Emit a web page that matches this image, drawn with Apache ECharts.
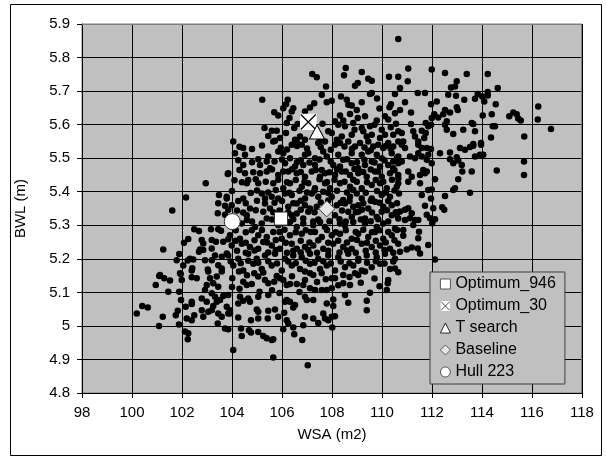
<!DOCTYPE html>
<html>
<head>
  <meta charset="utf-8">
  <title>WSA vs BWL</title>
  <script src="https://cdn.jsdelivr.net/npm/echarts@6/dist/echarts.min.js"></script>
  <style>
    html, body { margin: 0; padding: 0; background: #fff; }
    #chart { width: 606px; height: 461px; }
  </style>
</head>
<body>
  <div id="chart"></div>
  <script>
  // design cloud [WSA, BWL]
  var designs = [
    // upper band
    [110.65,5.855],
    [107.21,5.751],[107.39,5.741],[108.55,5.769],[108.48,5.747],[109.19,5.757],[109.45,5.737],[109.59,5.731],[110.28,5.743],[110.65,5.743],
    [107.76,5.714],[108.92,5.716],[109.03,5.724],[105.21,5.674],[106.16,5.661],[106.23,5.674],[107.59,5.689],[107.29,5.664],[107.12,5.651],
    [107.79,5.667],[107.99,5.671],[108.36,5.684],[108.59,5.674],[108.65,5.659],[108.79,5.657],[109.19,5.667],[109.52,5.691],[109.59,5.694],
    [110.52,5.691],[110.36,5.661],[106.05,5.649],[106.45,5.649],[106.39,5.639],[105.69,5.637],[105.85,5.627],[106.92,5.639],[108.32,5.627],
    [108.72,5.632],[108.99,5.644],[109.03,5.62],[109.32,5.625],[109.79,5.612],[110.12,5.625],[110.25,5.615],[110.52,5.634],
    [106.19,5.605],[106.49,5.59],[105.59,5.582],[105.79,5.582],[106.16,5.575],[108.12,5.61],[108.25,5.6],[108.52,5.595],[108.85,5.605],
    [109.19,5.59],[109.25,5.58],[109.52,5.595],[109.59,5.57],[109.99,5.585],[110.12,5.57],[107.85,5.58],[107.99,5.575],[108.39,5.565],
    [105.72,5.552],[106.52,5.555],[106.92,5.555],[105.92,5.56],[106.72,5.565],[107.52,5.552],[108.19,5.555],[108.79,5.57],[109.39,5.565],
    [109.92,5.56],[110.45,5.57],
    [105.3,5.59],[105.45,5.566],[106.3,5.62],[106.62,5.602],[107.62,5.603],[108.45,5.612],[108.9,5.585],[109.7,5.6],[110.35,5.592],
    [110.56,5.603],[110.3,5.652],[109.9,5.648],[109.8,5.678],
    // upper right
    [111.05,5.767],[111.99,5.764],[112.52,5.754],[113.39,5.751],[114.23,5.751],[111.03,5.729],[112.99,5.729],[112.92,5.714],[112.76,5.711],
    [110.72,5.709],[114.63,5.709],[111.43,5.694],[111.72,5.694],[112.65,5.689],[112.96,5.686],[113.29,5.674],[113.72,5.677],[113.83,5.691],
    [114.01,5.684],[114.23,5.697],[114.23,5.687],[114.09,5.669],[114.55,5.661],[110.92,5.667],[111.96,5.661],[112.19,5.669],[110.72,5.644],
    [111.16,5.636],[112.52,5.644],[112.72,5.636],[113.03,5.644],[112.99,5.652],[112.09,5.631],[111.99,5.62],[112.25,5.621],[112.45,5.631],
    [114.03,5.627],[114.39,5.631],[115.09,5.625],[115.25,5.636],[115.39,5.631],[115.45,5.618],[115.55,5.612],[116.25,5.654],[116.23,5.615],
    [116.76,5.587],[111.16,5.602],[111.75,5.605],[111.85,5.595],[111.96,5.6],[112.59,5.61],[112.52,5.6],[113.59,5.605],[113.65,5.602],
    [114.43,5.595],[114.52,5.595],[113.25,5.585],[112.59,5.585],[113.72,5.58],[112.85,5.572],[114.36,5.562],[115.69,5.565],[110.65,5.58],
    [110.79,5.575],[111.25,5.58],[111.32,5.565],[111.59,5.582],[111.75,5.575],[111.69,5.56],[110.85,5.55],[111.45,5.55],[113.65,5.542],
    [113.96,5.545],
    // right middle
    [110.79,5.54],[110.92,5.53],[111.45,5.54],[111.59,5.53],[111.45,5.515],[111.79,5.53],[111.96,5.527],[112.32,5.515],[112.72,5.517],
    [113.12,5.53],[113.32,5.525],[113.52,5.533],[113.65,5.537],[113.96,5.54],[113.92,5.51],[113.72,5.505],[114.05,5.51],[112.72,5.497],
    [112.99,5.503],[113.05,5.493],[112.85,5.485],[113.19,5.48],[111.12,5.505],[111.32,5.5],[111.59,5.505],[111.85,5.51],[111.99,5.485],
    [111.79,5.495],[110.65,5.505],[110.65,5.485],[110.79,5.49],[114.59,5.463],[115.68,5.49],[115.68,5.45],[113.59,5.46],[113.21,5.46],
    [113.05,5.437],[112.12,5.437],[111.05,5.46],[111.19,5.445],[111.52,5.45],[111.65,5.465],[111.72,5.455],[111.79,5.46],[111.05,5.43],
    [111.52,5.425],[110.65,5.45],[110.65,5.425],[112.92,5.41],[112.85,5.405],[111.85,5.405],[111.99,5.407],[113.52,5.397],[112.52,5.387],
    [111.59,5.39],[110.68,5.395],[111.96,5.38],[111.72,5.358],[112.05,5.351],[112.41,5.354],[112.49,5.346],[111.05,5.351],[110.92,5.346],
    [110.72,5.341],[110.59,5.331],[111.19,5.336],[111.12,5.321],[111.32,5.316],[111.45,5.316],[111.25,5.301],[110.92,5.316],[111.79,5.331],
    [111.92,5.321],[112.12,5.318],[112.01,5.306],[110.85,5.286],[110.85,5.269],[111.48,5.281],[111.45,5.261],[111.85,5.241],[110.72,5.221],
    [110.99,5.228],[111.19,5.234],[111.43,5.231],[111.52,5.216],[112.12,5.198],[110.52,5.171],
    // left middle
    [103.83,5.453],[102.95,5.425],[103.48,5.39],[103.79,5.38],[103.45,5.366],[103.72,5.358],[103.85,5.346],[102.16,5.383],[101.61,5.344],
    [103.43,5.336],[103.72,5.331],[102.49,5.288],[102.68,5.283],[103.16,5.288],[103.45,5.288],[103.56,5.284],[102.25,5.259],[102.08,5.248],
    [102.79,5.256],[102.85,5.246],[103.19,5.256],[103.36,5.251],[103.65,5.251],[103.85,5.258],[101.25,5.228],[101.89,5.214],[101.79,5.196],
    [102.72,5.228],[102.68,5.221],[102.85,5.226],[103.19,5.231],[103.32,5.21],[103.59,5.206],[103.79,5.216],[102.32,5.2],[102.45,5.198],
    [102.23,5.195],[102.92,5.196],[103.19,5.196],[103.45,5.181],[103.59,5.171],[102.05,5.18],[102.41,5.172],[101.92,5.157],[103.03,5.168],
    [101.12,5.152],
    // lower left
    [101.09,5.149],[101.29,5.142],[101.52,5.135],[100.95,5.122],[101.95,5.155],[101.99,5.137],[102.39,5.165],[102.39,5.145],[102.59,5.142],
    [103.05,5.162],[103.12,5.142],[103.39,5.147],[103.59,5.162],[102.99,5.122],[103.25,5.127],[103.45,5.117],[101.45,5.102],[101.89,5.102],
    [101.96,5.077],[102.15,5.057],[102.39,5.072],[102.39,5.065],[102.79,5.082],[102.99,5.072],[103.19,5.097],[103.32,5.087],[103.52,5.077],
    [103.65,5.089],[103.85,5.092],[102.92,5.107],[103.39,5.072],[100.19,5.037],[100.41,5.059],[100.63,5.055],[101.23,5.027],[101.08,5.0],
    [101.75,5.032],[101.83,5.045],[101.88,5.004],[102.19,5.022],[102.39,5.017],[102.49,5.032],[102.79,5.047],[102.85,5.027],[103.05,5.042],
    [103.19,5.047],[103.25,5.059],[103.45,5.037],[103.59,5.027],[102.12,4.983],[102.25,4.978],[102.23,4.96],[103.43,5.007],[103.72,4.992],
    [103.85,4.99],[103.85,5.037],
    // lower middle
    [104.28,5.162],[104.01,5.142],[104.45,5.132],[104.59,5.122],[104.79,5.125],[104.89,5.157],[105.05,5.147],[105.25,5.159],[105.32,5.137],
    [105.45,5.127],[105.69,5.132],[105.79,5.149],[105.92,5.142],[106.05,5.137],[106.19,5.122],[106.32,5.125],[106.59,5.125],
    [106.92,5.162],[107.12,5.157],[107.25,5.152],[107.59,5.157],[106.92,5.137],[106.85,5.122],[107.12,5.112],[107.32,5.107],[107.59,5.107],
    [107.79,5.107],[107.99,5.112],[107.99,5.142],[108.12,5.142],[108.45,5.152],[108.45,5.127],[108.72,5.122],[108.92,5.157],[109.05,5.152],
    [109.32,5.162],[110.25,5.137],[110.23,5.127],[110.19,5.107],[109.52,5.099],[109.39,5.075],[109.39,5.047],[108.65,5.069],[108.52,5.092],
    [103.79,5.057],[103.92,5.047],[104.25,5.067],[104.32,5.087],[104.45,5.075],[104.65,5.082],[104.72,5.072],[105.05,5.087],[104.99,5.049],
    [105.05,5.042],[105.45,5.045],[105.72,5.049],[105.45,5.092],[106.12,5.072],[106.19,5.077],[106.32,5.072],[106.45,5.055],[106.52,5.062],
    [106.92,5.087],[106.99,5.077],[107.25,5.077],[107.79,5.067],[108.05,5.079],[108.05,5.059],
    [103.92,5.037],[104.25,5.025],[104.76,5.017],[105.05,5.022],[105.43,5.022],[105.85,5.027],[106.09,5.039],[106.05,4.99],[106.19,5.017],
    [106.25,5.007],[106.45,4.995],[106.85,5.002],[106.92,5.027],[107.25,5.022],[107.45,5.009],[107.65,5.037],[107.72,5.022],[107.85,5.017],
    [107.99,5.027],[108.12,5.029],[108.01,4.995],[104.36,4.992],[104.39,4.97],[104.68,4.987],[104.76,4.98],[105.05,4.982],[105.25,4.97],
    [105.39,4.963],[105.59,4.958],[105.65,4.96],[106.49,4.975],[106.81,4.958],[104.05,4.928],[105.65,4.906],[107.03,4.883],
    [104.6,5.151],[105.1,5.102],[105.6,5.106],[105.9,5.098],[106.4,5.148],[106.7,5.101],[107.4,5.131],[107.75,5.139],[108.25,5.121],
    [108.7,5.146],[109.15,5.129],[109.7,5.141],[109.9,5.118],[104.3,5.111],[104.0,5.116],
    // dense centre
    [104.05,5.55],[104.45,5.53],[105.65,5.55],[106.39,5.54],[106.59,5.55],[106.79,5.54],[107.45,5.545],[107.72,5.55],[108.12,5.54],
    [108.32,5.545],[108.65,5.55],[108.92,5.535],[109.12,5.545],[109.45,5.55],[109.65,5.535],[109.85,5.54],[110.05,5.53],[110.25,5.545],
    [110.45,5.535],[110.65,5.55],
    [104.3,5.534],[104.8,5.527],[105.2,5.538],[105.95,5.531],[106.2,5.526],[106.6,5.536],[107.0,5.529],[107.55,5.533],[107.95,5.525],
    [108.5,5.535],[108.8,5.528],[109.3,5.532],[109.55,5.524],[110.15,5.536],[110.35,5.528],
    [104.12,5.515],[104.52,5.51],[105.45,5.505],[105.85,5.52],[106.05,5.515],[106.32,5.5],[106.92,5.51],[107.05,5.515],[107.32,5.5],
    [107.65,5.52],[107.79,5.505],[108.25,5.51],[108.45,5.495],[108.79,5.515],[109.19,5.51],[109.45,5.52],[109.79,5.51],[109.99,5.5],
    [110.39,5.515],[110.59,5.5],
    [104.25,5.494],[104.8,5.488],[105.05,5.497],[105.7,5.49],[106.0,5.496],[106.6,5.488],[106.75,5.494],[107.1,5.487],[107.5,5.496],
    [107.95,5.49],[108.6,5.497],[109.0,5.488],[109.3,5.495],[109.7,5.487],[110.1,5.494],[110.45,5.49],
    [104.45,5.48],[105.12,5.48],[105.39,5.49],[105.52,5.47],[106.12,5.485],[106.52,5.475],[106.85,5.48],[107.32,5.48],[107.59,5.465],
    [108.05,5.48],[108.32,5.475],[108.79,5.485],[109.05,5.47],[109.32,5.48],[109.59,5.49],[109.92,5.475],[110.25,5.48],[110.45,5.47],
    [104.3,5.465],[104.85,5.458],[105.6,5.466],[106.05,5.46],[106.4,5.467],[106.75,5.459],[107.35,5.465],[107.9,5.458],[108.2,5.466],
    [108.55,5.46],[108.9,5.468],[109.25,5.459],[109.55,5.466],[109.85,5.46],[110.5,5.464],
    [103.85,5.455],[104.52,5.455],[104.65,5.435],[105.12,5.455],[105.39,5.46],[105.85,5.45],[106.25,5.46],[106.59,5.455],[106.92,5.445],
    [107.19,5.46],[107.52,5.445],[107.72,5.455],[108.12,5.45],[108.39,5.46],[108.72,5.45],[109.05,5.455],[109.39,5.445],[109.72,5.46],
    [109.99,5.445],[110.32,5.455],[110.65,5.44],
    [104.1,5.434],[104.4,5.428],[104.95,5.437],[105.35,5.43],[105.85,5.436],[106.2,5.428],[106.55,5.435],[106.9,5.43],[107.5,5.437],
    [107.8,5.429],[108.1,5.436],[108.5,5.43],[108.85,5.436],[109.4,5.428],[109.75,5.435],[110.05,5.43],[110.4,5.436],
    [104.59,5.425],[105.05,5.425],[105.65,5.425],[106.05,5.41],[106.32,5.425],[106.79,5.415],[107.05,5.425],[107.32,5.41],[107.72,5.425],
    [107.92,5.41],[108.32,5.425],[108.72,5.415],[108.99,5.43],[109.19,5.41],[109.59,5.42],[109.92,5.425],[110.19,5.41],[110.59,5.415],
    [104.0,5.402],[104.75,5.396],[105.0,5.404],[105.45,5.398],[105.75,5.405],[106.3,5.397],[106.7,5.403],[107.0,5.398],[107.3,5.404],
    [107.85,5.396],[108.2,5.403],[108.6,5.398],[108.85,5.405],[109.35,5.397],[109.8,5.402],[110.15,5.398],[110.5,5.404],
    [103.79,5.385],[104.45,5.38],[105.19,5.395],[105.32,5.38],[105.59,5.385],[105.85,5.38],[106.12,5.395],[106.39,5.39],[106.92,5.38],
    [107.19,5.395],[107.45,5.385],[107.65,5.40],[107.99,5.385],[108.45,5.375],[108.72,5.385],[108.99,5.395],[109.19,5.38],[109.59,5.38],
    [109.99,5.39],[110.32,5.385],
    [104.25,5.372],[104.55,5.366],[105.0,5.373],[105.7,5.367],[106.0,5.372],[106.45,5.366],[106.75,5.373],[107.55,5.368],[107.85,5.374],
    [108.35,5.367],[108.7,5.372],[109.25,5.366],[109.55,5.373],[109.9,5.367],[110.25,5.372],[110.6,5.366],
    [103.99,5.36],[104.72,5.35],[105.32,5.365],[105.52,5.35],[106.25,5.355],[106.59,5.365],[106.92,5.36],[107.12,5.35],[107.39,5.355],
    [108.19,5.36],[108.52,5.365],[108.85,5.355],[109.05,5.36],[109.45,5.35],[109.72,5.37],[110.05,5.355],[110.39,5.36],
    [104.2,5.344],[104.45,5.338],[104.95,5.345],[105.65,5.339],[105.9,5.344],[106.25,5.338],[106.75,5.346],[107.3,5.339],[108.4,5.344],
    [108.95,5.339],[109.2,5.346],[109.6,5.338],[110.2,5.345],[110.55,5.339],
    [104.59,5.33],[105.25,5.34],[105.39,5.32],[106.39,5.33],[106.59,5.335],[106.85,5.32],[107.05,5.34],[108.12,5.33],[108.65,5.34],
    [108.79,5.325],[109.05,5.34],[109.32,5.32],[109.79,5.325],[109.99,5.34],[110.39,5.33],[110.65,5.32],
    [104.6,5.316],[104.8,5.311],[105.6,5.317],[106.1,5.312],[106.45,5.318],[107.25,5.311],[107.45,5.317],[107.9,5.312],[108.3,5.318],
    [108.55,5.311],[109.15,5.317],[109.55,5.312],[109.85,5.318],[110.25,5.311],
    [104.39,5.305],[104.92,5.295],[105.19,5.305],[105.85,5.3],[106.32,5.31],[106.59,5.295],[106.85,5.305],[107.25,5.3],[107.52,5.31],
    [107.72,5.295],[108.32,5.305],[108.52,5.3],[108.85,5.31],[109.32,5.305],[109.79,5.295],[110.05,5.305],[110.52,5.29],
    [104.15,5.285],[104.55,5.279],[105.2,5.286],[105.9,5.28],[106.1,5.287],[106.55,5.279],[106.95,5.285],[107.15,5.28],[107.8,5.286],
    [108.15,5.279],[108.55,5.285],[108.95,5.28],[109.25,5.287],[109.6,5.279],[109.9,5.285],[110.25,5.28],[110.6,5.286],
    [103.92,5.27],[104.32,5.26],[104.79,5.285],[105.05,5.27],[105.39,5.265],[105.65,5.28],[105.99,5.26],[106.32,5.27],[106.79,5.275],
    [107.32,5.28],[107.59,5.265],[107.99,5.27],[108.32,5.275],[108.79,5.26],[109.05,5.275],[109.45,5.265],[109.72,5.28],[110.05,5.26],
    [110.39,5.27],
    [104.15,5.254],[104.55,5.248],[104.9,5.255],[105.4,5.249],[105.75,5.256],[106.15,5.248],[106.75,5.254],[107.1,5.249],[107.45,5.255],
    [107.85,5.248],[108.25,5.254],[108.6,5.249],[109.0,5.256],[109.4,5.248],[109.75,5.254],[110.15,5.249],[110.5,5.255],
    [103.99,5.24],[104.39,5.245],[104.72,5.235],[105.05,5.23],[105.25,5.25],[105.59,5.24],[105.92,5.23],[106.39,5.245],[106.59,5.23],
    [106.92,5.235],[107.25,5.24],[107.65,5.23],[108.05,5.245],[108.45,5.235],[108.79,5.23],[109.19,5.245],[109.59,5.235],[109.92,5.24],
    [110.32,5.23],[110.65,5.245],
    [104.2,5.224],[104.55,5.218],[104.9,5.225],[105.45,5.219],[105.75,5.226],[106.2,5.218],[106.45,5.224],[106.75,5.219],[107.05,5.226],
    [107.4,5.218],[107.85,5.224],[108.3,5.219],[108.6,5.225],[108.95,5.218],[109.35,5.224],[109.75,5.219],[110.1,5.226],[110.45,5.218],
    [103.85,5.21],[104.25,5.2],[104.65,5.215],[104.99,5.2],[105.32,5.21],[105.72,5.215],[106.12,5.2],[106.45,5.21],[106.79,5.205],
    [107.12,5.215],[107.45,5.2],[107.85,5.21],[108.25,5.205],[108.65,5.215],[109.05,5.2],[109.39,5.21],[109.79,5.205],[110.12,5.215],
    [110.52,5.2],
    [103.95,5.192],[104.35,5.187],[104.65,5.194],[105.05,5.188],[105.45,5.193],[105.8,5.186],[106.25,5.192],[106.55,5.187],[106.95,5.194],
    [107.3,5.188],[107.65,5.193],[107.95,5.186],[108.35,5.192],[108.7,5.187],[109.05,5.194],[109.4,5.188],[109.75,5.193],[110.1,5.186],
    [110.45,5.192],
    [104.05,5.18],[104.45,5.165],[104.85,5.185],[105.19,5.17],[105.59,5.18],[105.99,5.165],[106.39,5.18],[106.72,5.17],[107.12,5.185],
    [107.52,5.17],[107.79,5.18],[108.12,5.165],[108.52,5.175],[108.85,5.18],[109.19,5.165],[109.59,5.175],[109.92,5.185],[110.32,5.17],
    [110.65,5.16]
  ];

  // highlighted designs [WSA, BWL]
  var optimum946 = [105.96, 5.32];
  var optimum30 = [107.05, 5.608];
  var tSearch = [107.4, 5.578];
  var baseline = [107.79, 5.349];
  var hull223 = [104.01, 5.311];

  var xTicks = { min: 98, max: 118, step: 2 };
  var yTicks = { min: 4.8, max: 5.9, step: 0.1 };

  var font = 'Liberation Sans, Arial, sans-serif';

  // white square with a black cross
  var crossSvg = '<svg xmlns="http://www.w3.org/2000/svg" width="34" height="34">' +
    '<rect width="34" height="34" fill="#fff"/>' +
    '<path d="M2 2L32 32M32 2L2 32" stroke="#000" stroke-width="2.4"/></svg>';
  var crossIcon = 'image://data:image/svg+xml;base64,' + btoa(crossSvg);

  var chart = echarts.init(document.getElementById('chart'), null, { renderer: 'canvas' });

  var option = {
    animation: false,
    backgroundColor: '#fff',
    textStyle: { fontFamily: font, color: '#000' },
    grid: {
      left: 82, right: 24, top: 24, bottom: 68,
      show: true,
      backgroundColor: '#c0c0c0',
      borderColor: '#808080',
      borderWidth: 1
    },
    xAxis: {
      type: 'value',
      min: xTicks.min, max: xTicks.max, interval: xTicks.step,
      name: 'WSA (m2)',
      nameLocation: 'middle',
      nameGap: 34,
      nameTextStyle: { fontSize: 15, color: '#000', fontFamily: font },
      axisLine: { show: true, onZero: false, lineStyle: { color: '#000', width: 1 } },
      axisTick: { show: true, inside: false, length: 5, lineStyle: { color: '#000' } },
      axisLabel: { fontSize: 15, color: '#000', margin: 12, fontFamily: font },
      splitLine: { show: true, lineStyle: { color: '#000', width: 1 } }
    },
    yAxis: {
      type: 'value',
      min: yTicks.min, max: yTicks.max, interval: yTicks.step,
      name: 'BWL (m)',
      nameLocation: 'middle',
      nameGap: 54,
      nameTextStyle: { fontSize: 15, color: '#000', fontFamily: font },
      axisLine: { show: true, onZero: false, lineStyle: { color: '#000', width: 1 } },
      axisTick: { show: true, inside: false, length: 5, lineStyle: { color: '#000' } },
      axisLabel: {
        fontSize: 15, color: '#000', margin: 12, fontFamily: font,
        formatter: function (v) { return String(+v.toFixed(1)); }
      },
      splitLine: { show: true, lineStyle: { color: '#000', width: 1 } }
    },
    legend: {
      orient: 'vertical',
      left: 430, top: 272,
      padding: [4, 9, 4, 10],
      itemGap: 6,
      itemWidth: 10, itemHeight: 10,
      itemTextGap: 5,
      itemStyle: { borderWidth: 0.8 },
      backgroundColor: '#c0c0c0',
      borderColor: '#404040',
      borderWidth: 1,
      borderRadius: 0,
      textStyle: { fontSize: 16, color: '#000', fontFamily: font, lineHeight: 16 },
      data: ['Optimum_946', 'Optimum_30', 'T search', 'Baseline', 'Hull 223']
    },
    graphic: [
      { type: 'rect', silent: true, z: 100,
        shape: { x: 10.5, y: 4.5, width: 591, height: 451 },
        style: { fill: 'none', stroke: '#000', lineWidth: 1 } },
      { type: 'polyline', silent: true, z: 100,
        shape: { points: [[82, 24.5], [581.5, 24.5], [581.5, 393]] },
        style: { fill: 'none', stroke: '#808080', lineWidth: 1 } }
    ],
    series: [
      {
        name: 'designs',
        type: 'scatter',
        data: designs,
        symbol: 'circle',
        symbolSize: 6.5,
        silent: true,
        itemStyle: { color: '#000', opacity: 1 },
        z: 2
      },
      {
        name: 'Optimum_946',
        type: 'scatter',
        data: [optimum946],
        symbol: 'rect',
        symbolSize: 13,
        itemStyle: { color: '#fff', borderColor: '#333', borderWidth: 1, opacity: 1 },
        z: 3
      },
      {
        name: 'Optimum_30',
        type: 'scatter',
        data: [optimum30],
        symbol: crossIcon,
        symbolSize: 17,
        itemStyle: { color: '#fff', opacity: 1 },
        z: 3
      },
      {
        name: 'T search',
        type: 'scatter',
        data: [tSearch],
        symbol: 'triangle',
        symbolSize: [15, 14],
        itemStyle: { color: '#fff', borderColor: '#000', borderWidth: 1, opacity: 1 },
        z: 3
      },
      {
        name: 'Baseline',
        type: 'scatter',
        data: [baseline],
        symbol: 'diamond',
        symbolSize: 16,
        itemStyle: { color: '#e6e6e6', borderColor: '#444', borderWidth: 1, opacity: 1 },
        z: 3
      },
      {
        name: 'Hull 223',
        type: 'scatter',
        data: [hull223],
        symbol: 'circle',
        symbolSize: 16,
        itemStyle: { color: '#fff', borderColor: '#333', borderWidth: 1, opacity: 1 },
        z: 3
      }
    ]
  };

  chart.setOption(option);
  </script>
</body>
</html>
